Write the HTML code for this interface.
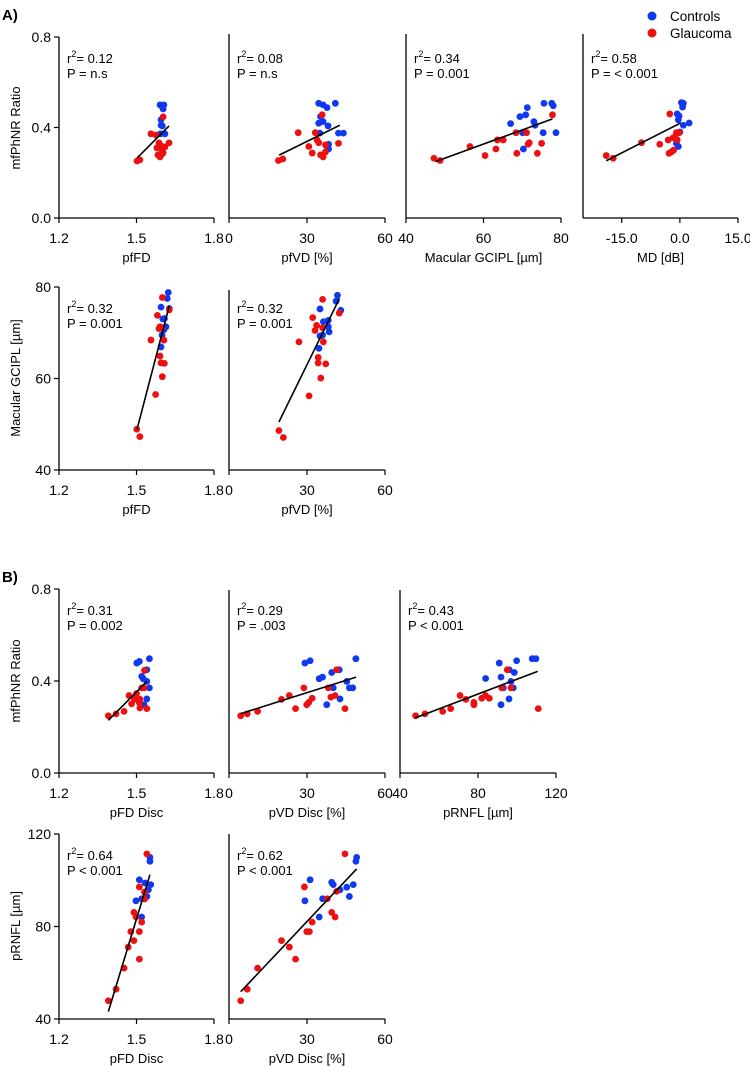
<!DOCTYPE html>
<html><head><meta charset="utf-8"><style>
html,body{margin:0;padding:0;background:#fff}
svg{display:block;font-family:"Liberation Sans",Arial,sans-serif}
</style></head><body>
<svg id="fig" width="750" height="1068" viewBox="0 0 750 1068" xmlns="http://www.w3.org/2000/svg">
<text x="2" y="20" font-size="15" font-weight="bold">A)</text>
<text x="2" y="582" font-size="15" font-weight="bold">B)</text>
<g>
<circle cx="652" cy="16" r="4.5" fill="#1038ee"/>
<text x="670" y="21" font-size="13.5">Controls</text>
<circle cx="652" cy="33" r="4.5" fill="#ee1010"/>
<text x="670" y="38" font-size="13.5">Glaucoma</text>
</g>
<text transform="translate(20,128) rotate(-90)" text-anchor="middle" font-size="13">mfPhNR Ratio</text>
<text transform="translate(20,378) rotate(-90)" text-anchor="middle" font-size="13">Macular GCIPL [µm]</text>
<text transform="translate(20,681) rotate(-90)" text-anchor="middle" font-size="13">mfPhNR Ratio</text>
<text transform="translate(20,926) rotate(-90)" text-anchor="middle" font-size="13">pRNFL [µm]</text>
</svg>
<script>
// ---- data ----
const a1CtrlX=[1.591,1.597,1.606,1.603,1.595,1.595,1.6,1.593,1.61,1.599];
const a1CtrlY=[0.50,0.495,0.50,0.482,0.434,0.41,0.407,0.372,0.372,0.314];
const a1GlauX=[1.502,1.513,1.556,1.575,1.579,1.587,1.595,1.603,1.599,1.583,1.591,1.610,1.626,1.603,1.599];
const a1GlauY=[0.252,0.257,0.372,0.367,0.31,0.332,0.319,0.447,0.283,0.279,0.27,0.314,0.332,0.288,0.296];
const a1FitX=[1.502,1.626];
const a1FitY=[0.265,0.407];

const a2CtrlX=[34.5,36.2,37.7,40.9,35.2,34.5,36.2,38.1,42.1,44,34.9,38.3,38.3];
const a2CtrlY=[0.507,0.5,0.488,0.507,0.448,0.419,0.426,0.407,0.375,0.375,0.375,0.326,0.305];
const a2GlauX=[19.0,20.7,26.6,30.7,32.0,33.2,33.9,35.8,35.2,36.2,37.1,37.1,34.5,42.1];
const a2GlauY=[0.254,0.261,0.377,0.316,0.287,0.377,0.345,0.456,0.279,0.27,0.292,0.323,0.333,0.33];
const a2FitX=[19.3,42.6];
const a2FitY=[0.278,0.41];

const a3CtrlX=[75.6,77.6,78.0,71.3,69.4,70.9,73.0,73.3,67.0,70.1,75.4,78.7,70.3];
const a3CtrlY=[0.507,0.507,0.496,0.488,0.448,0.456,0.426,0.41,0.417,0.377,0.377,0.377,0.305];
const a3GlauX=[47.2,48.8,56.5,60.4,63.2,63.6,65.1,68.4,68.6,71.1,71.8,71.5,75.0,73.9,77.8];
const a3GlauY=[0.264,0.254,0.316,0.276,0.305,0.345,0.345,0.377,0.286,0.377,0.333,0.326,0.33,0.286,0.456];
const a3FitX=[47.6,77.8];
const a3FitY=[0.249,0.438];

const a4CtrlX=[0.4,0.9,0.7,-0.7,-0.2,-0.4,0.9,2.4,0,-0.9,-0.4];
const a4CtrlY=[0.51,0.507,0.49,0.46,0.451,0.434,0.41,0.42,0.38,0.33,0.316];
const a4GlauX=[-19.0,-17.2,-9.9,-5.2,-2.6,-3.0,-1.7,-1.0,-0.7,-0.9,-2.1,-2.8,-1.6,-0.2];
const a4GlauY=[0.276,0.264,0.333,0.326,0.46,0.345,0.355,0.35,0.345,0.377,0.293,0.286,0.3,0.377];
const a4FitX=[-19.0,0.2];
const a4FitY=[0.253,0.42];

const a5CtrlX=[1.623,1.619,1.595,1.627,1.608,1.602,1.614,1.606,1.599,1.595];
const a5CtrlY=[78.8,77.5,75.6,75.3,73.1,73.0,71.3,70.7,69.5,66.9];
const a5GlauX=[1.6,1.581,1.591,1.587,1.599,1.556,1.606,1.591,1.595,1.608,1.6,1.574,1.627,1.501,1.513];
const a5GlauY=[77.7,73.8,71.3,70.9,71.1,68.4,68.4,64.9,63.4,63.3,60.4,56.5,75.0,48.9,47.3];
const a5FitX=[1.502,1.627];
const a5FitY=[48.9,75.9];

const a6CtrlX=[41.7,41.2,43,35,36.3,38.2,36.0,38.2,38.5,35,34.6];
const a6CtrlY=[78.2,76.9,74.9,75.2,72.4,72.7,69.5,71.3,70.2,69.3,66.6];
const a6GlauX=[36,32.2,33.7,33.1,36,26.9,36.3,34.3,34.3,37.2,35.3,30.8,42.4,19.2,20.9];
const a6GlauY=[77.3,73.3,71.6,70.5,71.1,68,68,64.6,63.4,63.2,60.1,56.2,74.3,48.6,47.1];
const a6FitX=[19.2,42.5];
const a6FitY=[50.5,77.5];

const b1CtrlX=[1.501,1.511,1.55,1.54,1.52,1.526,1.54,1.55,1.54,1.529];
const b1CtrlY=[0.478,0.485,0.497,0.449,0.42,0.41,0.398,0.37,0.322,0.297];
const b1GlauX=[1.391,1.421,1.452,1.471,1.481,1.5,1.492,1.513,1.513,1.511,1.52,1.531,1.54,1.529];
const b1GlauY=[0.249,0.257,0.268,0.337,0.301,0.345,0.321,0.321,0.283,0.305,0.37,0.446,0.28,0.37];
const b1FitX=[1.391,1.54];
const b1FitY=[0.229,0.398];

const b2CtrlX=[29.2,31.2,48.8,34.7,36,39.5,42.4,40.1,45.3,46.3,47.6,37.6,42.7];
const b2CtrlY=[0.478,0.488,0.497,0.41,0.417,0.437,0.449,0.37,0.398,0.37,0.37,0.297,0.322];
const b2GlauX=[4.5,7,11,20.2,23.2,25.6,28.8,29.9,30.7,32,38.2,39.2,40.8,41.4,44.6];
const b2GlauY=[0.249,0.257,0.268,0.32,0.337,0.28,0.37,0.297,0.307,0.325,0.37,0.33,0.337,0.449,0.28];
const b2FitX=[4.5,48.9];
const b2FitY=[0.258,0.417];

const b3CtrlX=[90.9,99.8,107.8,109.7,83.9,91.8,96,98.6,96.9,93,98.1,95.9,91.8];
const b3CtrlY=[0.478,0.488,0.497,0.497,0.411,0.417,0.449,0.437,0.398,0.37,0.37,0.322,0.297];
const b3GlauX=[48,52.8,61.9,66,70.8,73.8,77.9,77.9,81.9,83.9,85.8,92.2,95,96.9,110.9];
const b3GlauY=[0.249,0.257,0.268,0.28,0.337,0.32,0.307,0.297,0.325,0.337,0.325,0.37,0.449,0.37,0.28];
const b3FitX=[47.7,110.6];
const b3FitY=[0.239,0.442];

const b4CtrlX=[1.552,1.552,1.511,1.533,1.555,1.546,1.54,1.52,1.498,1.52];
const b4CtrlY=[109.9,108.2,100.2,98.8,98.1,95.9,93,92,91.1,84.1];
const b4GlauX=[1.54,1.511,1.531,1.531,1.49,1.498,1.52,1.478,1.511,1.49,1.468,1.511,1.452,1.421,1.391];
const b4GlauY=[111.4,97.1,94.9,91.9,86.1,84.1,81.9,77.8,77.8,73.9,71.1,65.9,62,52.9,47.9];
const b4FitX=[1.391,1.552];
const b4FitY=[43.2,102.4];

const b5CtrlX=[49.1,48.8,31.2,39.5,40.1,47.8,42.7,45.3,46.3,36,29.2,34.7];
const b5CtrlY=[109.9,108.2,100.2,99.1,98.1,98.1,95.9,97,93,92,91.1,84.1];
const b5GlauX=[44.6,29,37.8,41.4,39.5,40.8,32,29.9,30.9,20.2,23.2,25.6,11,7,4.5];
const b5GlauY=[111.4,97.1,92,95.2,86.1,84.1,81.9,77.8,77.8,73.9,71.1,65.9,62,52.9,47.9];
const b5FitX=[4.5,49.1];
const b5FitY=[51.8,104.9];

// tick values & labels
const fdTicks=[1.2,1.5,1.8], fdLabels=["1.2","1.5","1.8"];
const vdTicks=[0,30,60], vdLabels=["0","30","60"];
const gcTicks=[40,60,80], gcLabels=["40","60","80"];
const mdTicks=[-15,0,15], mdLabels=["-15.0","0.0","15.0"];
const rnTicks=[40,80,120], rnLabels=["40","80","120"];
const phTicks=[0,0.4,0.8], phLabels=["0.0","0.4","0.8"];
const gcyTicks=[40,60,80], gcyLabels=["40","60","80"];
const rnyTicks=[40,80,120], rnyLabels=["40","80","120"];

// ---- rendering ----
const NS="http://www.w3.org/2000/svg";
const svg=document.getElementById('fig');
function mk(tag,attrs,parent){const e=document.createElementNS(NS,tag);for(const k in attrs)e.setAttribute(k,attrs[k]);(parent||svg).appendChild(e);return e;}

const panels=[
 {id:'a1',x0:59,x1:214,xmin:1.2,xmax:1.8,top:37,bot:218,ymin:0,ymax:0.8,axTop:37,xt:fdTicks,xl:fdLabels,yt:phTicks,yl:phLabels,title:'pfFD',r2:'0.12',p:'P = n.s',cx:a1CtrlX,cy:a1CtrlY,gx:a1GlauX,gy:a1GlauY,fx:a1FitX,fy:a1FitY},
 {id:'a2',x0:229,x1:385,xmin:0,xmax:60,top:37,bot:218,ymin:0,ymax:0.8,axTop:34,xt:vdTicks,xl:vdLabels,title:'pfVD [%]',r2:'0.08',p:'P = n.s',cx:a2CtrlX,cy:a2CtrlY,gx:a2GlauX,gy:a2GlauY,fx:a2FitX,fy:a2FitY},
 {id:'a3',x0:406,x1:561,xmin:40,xmax:80,top:37,bot:218,ymin:0,ymax:0.8,axTop:34,xt:gcTicks,xl:gcLabels,title:'Macular GCIPL [µm]',r2:'0.34',p:'P = 0.001',cx:a3CtrlX,cy:a3CtrlY,gx:a3GlauX,gy:a3GlauY,fx:a3FitX,fy:a3FitY},
 {id:'a4',x0:583,x1:738,xmin:-25,xmax:15,top:37,bot:218,ymin:0,ymax:0.8,axTop:34,xt:mdTicks,xl:mdLabels,title:'MD [dB]',r2:'0.58',p:'P = < 0.001',cx:a4CtrlX,cy:a4CtrlY,gx:a4GlauX,gy:a4GlauY,fx:a4FitX,fy:a4FitY},
 {id:'a5',x0:59,x1:214,xmin:1.2,xmax:1.8,top:287,bot:470,ymin:40,ymax:80,axTop:287,xt:fdTicks,xl:fdLabels,yt:gcyTicks,yl:gcyLabels,title:'pfFD',r2:'0.32',p:'P = 0.001',cx:a5CtrlX,cy:a5CtrlY,gx:a5GlauX,gy:a5GlauY,fx:a5FitX,fy:a5FitY},
 {id:'a6',x0:229,x1:385,xmin:0,xmax:60,top:287,bot:470,ymin:40,ymax:80,axTop:290,xt:vdTicks,xl:vdLabels,title:'pfVD [%]',r2:'0.32',p:'P = 0.001',cx:a6CtrlX,cy:a6CtrlY,gx:a6GlauX,gy:a6GlauY,fx:a6FitX,fy:a6FitY},
 {id:'b1',x0:59,x1:214,xmin:1.2,xmax:1.8,top:589,bot:773,ymin:0,ymax:0.8,axTop:589,xt:fdTicks,xl:fdLabels,yt:phTicks,yl:phLabels,title:'pFD Disc',r2:'0.31',p:'P = 0.002',cx:b1CtrlX,cy:b1CtrlY,gx:b1GlauX,gy:b1GlauY,fx:b1FitX,fy:b1FitY},
 {id:'b2',x0:229,x1:385,xmin:0,xmax:60,top:589,bot:773,ymin:0,ymax:0.8,axTop:590,xt:vdTicks,xl:vdLabels,title:'pVD Disc [%]',r2:'0.29',p:'P = .003',cx:b2CtrlX,cy:b2CtrlY,gx:b2GlauX,gy:b2GlauY,fx:b2FitX,fy:b2FitY},
 {id:'b3',x0:400,x1:556,xmin:40,xmax:120,top:589,bot:773,ymin:0,ymax:0.8,axTop:590,xt:rnTicks,xl:rnLabels,title:'pRNFL  [µm]',r2:'0.43',p:'P < 0.001',cx:b3CtrlX,cy:b3CtrlY,gx:b3GlauX,gy:b3GlauY,fx:b3FitX,fy:b3FitY},
 {id:'b4',x0:59,x1:214,xmin:1.2,xmax:1.8,top:834,bot:1019,ymin:40,ymax:120,axTop:834,xt:fdTicks,xl:fdLabels,yt:rnyTicks,yl:rnyLabels,title:'pFD Disc',r2:'0.64',p:'P < 0.001',cx:b4CtrlX,cy:b4CtrlY,gx:b4GlauX,gy:b4GlauY,fx:b4FitX,fy:b4FitY},
 {id:'b5',x0:229,x1:385,xmin:0,xmax:60,top:834,bot:1019,ymin:40,ymax:120,axTop:834,xt:vdTicks,xl:vdLabels,title:'pVD Disc [%]',r2:'0.62',p:'P < 0.001',cx:b5CtrlX,cy:b5CtrlY,gx:b5GlauX,gy:b5GlauY,fx:b5FitX,fy:b5FitY}
];

panels.forEach(P=>{
  const sx=v=>P.x0+(v-P.xmin)/(P.xmax-P.xmin)*(P.x1-P.x0);
  const sy=v=>P.bot-(v-P.ymin)/(P.ymax-P.ymin)*(P.bot-P.top);
  const g=mk('g',{});
  
  
  const ya=mk('line',{x1:P.x0,y1:P.axTop,x2:P.x0,y2:P.bot,stroke:'#000','stroke-width':1.3},g);
  
  
  const xa=mk('line',{x1:P.x0,y1:P.bot,x2:P.x1,y2:P.bot,stroke:'#000','stroke-width':1.3},g);
  
  
  P.xt.forEach((t,i)=>{
    const x=sx(t);
    mk('line',{x1:x,y1:P.bot,x2:x,y2:P.bot+5,stroke:'#000','stroke-width':1.2},g);
    const tl=mk('text',{x:x,y:P.bot+25,'text-anchor':'middle','font-size':14},g);
    tl.textContent=P.xl[i];
    
    
  });
  if(P.yt){P.yt.forEach((t,i)=>{
    const y=sy(t);
    mk('line',{x1:P.x0-5,y1:y,x2:P.x0,y2:y,stroke:'#000','stroke-width':1.2},g);
    const tl=mk('text',{x:P.x0-8,y:y+5,'text-anchor':'end','font-size':14},g);
    tl.textContent=P.yl[i];
    
    
  });}
  const tt=mk('text',{x:(P.x0+P.x1)/2,y:P.bot+44,'text-anchor':'middle','font-size':13},g);
  tt.textContent=P.title;
  
  
  const st=mk('text',{x:P.x0+8,y:P.top+26,'font-size':13},g);
  
  
  st.appendChild(document.createTextNode('r'));
  const sup=mk('tspan',{dy:-6,'font-size':9},st);sup.textContent='2';
  const rest=mk('tspan',{dy:6},st);rest.textContent='= '+P.r2;
  const pt=mk('text',{x:P.x0+8,y:P.top+41,'font-size':13},g);
  pt.textContent=P.p;
  
  
  P.cx.forEach((v,i)=>{
    const c=mk('circle',{cx:sx(v),cy:sy(P.cy[i]),r:3.4,fill:'#1038ee'},g);
    
    
  });
  P.gx.forEach((v,i)=>{
    const c=mk('circle',{cx:sx(v),cy:sy(P.gy[i]),r:3.4,fill:'#ee1010'},g);
    
    
  });
  const fl=mk('line',{x1:sx(P.fx[0]),y1:sy(P.fy[0]),x2:sx(P.fx[1]),y2:sy(P.fy[1]),stroke:'#000','stroke-width':1.6},g);
  
  
});
</script>
</body></html>
